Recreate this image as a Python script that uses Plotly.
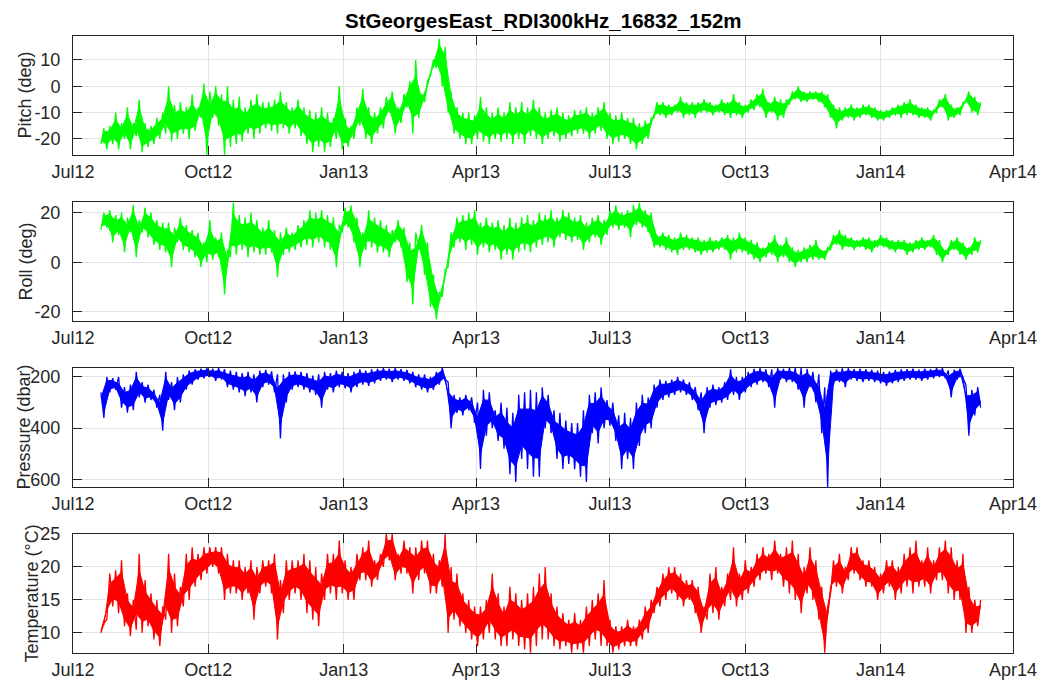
import numpy as np
import pandas as pd
import plotly.graph_objects as go

# ---------------------------------------------------------------------------
# Mooring record: StGeorgesEast RDI 300 kHz ADCP (s/n 16832) at 152 m.
# Each series is stored as a 4-day low/high envelope starting 2012-07-20.
# ---------------------------------------------------------------------------
record_start = "2012-07-20"
sample_step_days = 4

pitch_lo = [
    -22, -24, -22, -24, -20, -24, -19, -25, -23, -22,
    -20, -18, -21, -20, -18, -20, -17, -12, -26, -12,
    -15, -26, -23, -22, -21, -18, -20, -18, -16, -17,
    -18, -16, -18, -16, -19, -22, -25, -23, -25, -23,
    -20, -24, -23, -20, -15, -20, -22, -18, -16, -10,
    -18, -14, -8, -18, -12, -6, 4, 7, 0, -10,
    -18, -20, -22, -22, -20, -21, -22, -20, -21, -20,
    -22, -20, -22, -19, -20, -22, -20, -19, -21, -20,
    -19, -18, -18, -20, -18, -17, -20, -22, -21, -20,
    -22, -24, -22, -20, -12, -11, -12, -11, -10, -12,
    -11, -12, -10, -10, -11, -10, -11, -12, -11, -12,
    -10, -9, -8, -12, -10, -13, -12, -7, -5, -6,
    -6, -5, -6, -8, -12, -16, -13, -12, -13, -12,
    -11, -12, -13, -13, -12, -11, -12, -11, -11, -12,
    -12, -13, -10, -8, -13, -12, -11, -6, -10, -11,
]
pitch_hi = [
    -16, -15, -10, -14, -8, -14, -5, -14, -15, -12,
    -10, 0, -7, -6, -8, -3, -8, 1, -2, 0,
    -3, 0, -5, -4, -8, -5, -3, -6, -6, -5,
    -2, -6, -8, -5, -8, -9, -10, -8, -10, -12,
    0, -12, -15, -8, -1, -8, -10, -8, -4, -2,
    -8, -3, 2, 10, -3, 2, 10, 18, 15, -2,
    -8, -10, -10, -11, -4, -8, -10, -8, -10, -6,
    -8, -6, -8, -5, -8, -10, -9, -8, -10, -11,
    -9, -9, -8, -10, -8, -6, -10, -11, -10, -12,
    -12, -14, -13, -12, -6, -6, -7, -7, -4, -6,
    -6, -6, -5, -6, -7, -5, -6, -3, -6, -7,
    -5, -3, -1, -6, -4, -5, -5, -2, 0, -2,
    -2, -2, -2, -3, -7, -8, -8, -7, -8, -7,
    -7, -8, -9, -9, -8, -7, -6, -5, -7, -8,
    -8, -9, -5, -3, -7, -8, -6, -2, -4, -6,
]

roll_lo = [
    13, 14, 8, 11, 4, 12, 2, 12, 10, 7,
    5, 4, -2, 8, 5, 4, 2, -2, 0, 1,
    2, -13, 2, 3, 5, 2, 4, 3, 3, 4,
    -6, 3, 4, 5, 6, 7, 6, 8, 6, 5,
    -2, 12, 14, 8, -2, 5, 6, 4, 4, 2,
    8, 6, -8, -17, 5, -5, -18, -23, -14, -2,
    6, 8, 5, 7, 3, 6, 4, 5, 1, 3,
    1, 4, 5, 4, 6, 7, 8, 6, 10, 9,
    8, 9, 5, 8, 10, 7, 11, 14, 13, 14,
    10, 15, 14, 12, 6, 6, 5, 4, 3, 5,
    5, 4, 3, 4, 4, 5, 5, 1, 4, 4,
    3, 1, 0, 2, 3, 0, 2, 0, -2, 0,
    0, 1, 1, 1, 5, 7, 5, 6, 5, 6,
    5, 4, 6, 6, 5, 4, 5, 3, 4, 5,
    5, 6, 3, 0, 3, 5, 3, 1, 3, 4,
]
roll_hi = [
    20, 21, 19, 20, 18, 23, 17, 22, 20, 17,
    16, 16, 14, 18, 15, 13, 12, 8, 17, 10,
    12, 5, 24, 19, 18, 20, 17, 14, 17, 13,
    12, 14, 12, 15, 17, 21, 20, 21, 19, 18,
    15, 22, 23, 18, 12, 21, 18, 17, 15, 13,
    17, 14, 8, 12, 15, 8, -5, -12, -3, 12,
    18, 19, 20, 21, 16, 18, 16, 17, 15, 18,
    16, 18, 19, 17, 20, 19, 21, 18, 21, 20,
    18, 19, 16, 18, 19, 17, 21, 23, 20, 21,
    23, 24, 21, 20, 11, 12, 11, 10, 12, 11,
    10, 10, 9, 10, 9, 10, 11, 10, 12, 10,
    9, 8, 6, 8, 11, 7, 10, 6, 5, 6,
    7, 9, 5, 6, 11, 13, 11, 10, 9, 10,
    10, 9, 11, 10, 9, 9, 9, 8, 9, 10,
    9, 11, 9, 5, 9, 10, 8, 6, 10, 9,
]

pressure_lo = [
    260, 200, 205, 200, 240, 230, 180, 220, 230, 250,
    270, 180, 220, 200, 190, 175, 170, 168, 166, 168,
    166, 170, 175, 180, 185, 180, 190, 175, 172, 178,
    190, 190, 180, 178, 180, 185, 195, 190, 180, 185,
    175, 180, 185, 180, 170, 175, 170, 168, 166, 168,
    166, 170, 172, 180, 190, 190, 200, 180, 165, 220,
    270, 280, 270, 280, 300, 250, 260, 330, 300, 320,
    340, 270, 260, 250, 260, 240, 270, 330, 340, 370,
    380, 380, 330, 270, 260, 240, 290, 300, 350, 340,
    360, 300, 270, 280, 230, 210, 215, 210, 200, 210,
    220, 240, 260, 240, 230, 240, 220, 170, 200, 200,
    180, 168, 166, 170, 170, 166, 168, 166, 165, 165,
    168, 180, 190, 240, 175, 170, 166, 166, 170, 168,
    170, 172, 175, 180, 178, 172, 170, 170, 168, 172,
    168, 170, 166, 166, 175, 172, 168, 230, 250, 240,
]
pressure_hi = [
    360, 260, 250, 320, 340, 330, 280, 300, 290, 320,
    410, 290, 330, 300, 250, 230, 210, 205, 200, 215,
    210, 240, 250, 260, 275, 260, 300, 240, 230, 260,
    440, 300, 250, 240, 250, 260, 270, 320, 250, 260,
    240, 245, 260, 240, 230, 235, 225, 215, 210, 220,
    210, 215, 225, 240, 250, 260, 250, 230, 210, 400,
    340, 350, 330, 380, 560, 430, 400, 450, 480, 580,
    610, 520, 560, 590, 590, 400, 420, 520, 560, 540,
    560, 590, 610, 420, 460, 400, 390, 450, 560, 520,
    560, 470, 420, 400, 320, 290, 280, 270, 260, 270,
    290, 330, 420, 320, 310, 300, 290, 270, 290, 260,
    240, 230, 220, 240, 320, 210, 220, 220, 250, 320,
    240, 300, 420, 630, 230, 220, 240, 210, 215, 220,
    215, 220, 225, 235, 225, 220, 215, 210, 210, 215,
    210, 205, 200, 205, 280, 210, 205, 430, 350, 320,
]

temperature_lo = [
    10, 12, 14, 13, 11, 9.5, 10.5, 10, 11, 9,
    8, 12, 10, 11, 14, 15, 17, 18, 19, 20,
    19, 15, 16, 16, 15, 16, 12, 16, 17, 16,
    9, 13, 15, 16, 15, 13, 12, 11, 15, 16,
    15, 16, 15, 15, 18, 18, 17, 18, 20, 21,
    18, 19, 19, 16, 18, 19, 16, 16, 17, 10,
    12, 11, 10, 9, 8, 9, 10, 9, 8, 8,
    9, 8, 7.5, 7, 8, 9, 9, 8, 7.5, 8,
    7, 7.5, 7, 8, 9, 8, 8, 7, 7.5, 8,
    8, 8, 9, 10, 13, 14, 15, 16, 15, 14,
    15, 13, 10, 12, 13, 12, 14, 15, 14, 15,
    16, 17, 18, 19, 18, 19, 17, 16, 15, 13,
    16, 15, 12, 7, 16, 17, 16, 18, 19, 18,
    17, 17, 15, 16, 17, 15, 16, 17, 16, 17,
    17, 16, 18, 18, 16, 15, 15, 10, 10, 11,
]
temperature_hi = [
    11.5, 19, 19.5, 21, 16, 15, 22, 18, 16, 15,
    14, 22, 19, 17, 22, 23, 22, 23, 23, 23,
    23, 22, 21, 21, 20, 21, 20, 21, 21, 22,
    18, 21, 21, 21, 22, 21, 20, 19, 22, 22,
    24, 21, 20, 22, 23, 24, 21, 22, 25, 25,
    22, 24, 23, 23, 24, 24, 22, 21, 25, 20,
    19, 16, 15, 14, 14, 15, 19, 16, 14, 17,
    16, 15, 16, 17, 19, 20, 16, 14, 13, 12,
    13, 12, 14, 15, 16, 18, 12, 11, 11, 12,
    11, 12, 14, 15, 17, 19, 20, 20, 19, 18,
    18, 17, 14, 19, 20, 17, 19, 23, 19, 21,
    20, 22, 23, 22, 24, 22, 23, 24, 22, 20,
    23, 21, 17, 14, 21, 22, 20, 23, 23, 21,
    21, 20, 19, 21, 21, 20, 22, 23, 24, 21,
    23, 21, 23, 24, 23, 21, 22, 17, 15, 15,
]

# Axis ticks
month_ticks = ["2012-07-01", "2012-10-01", "2013-01-01", "2013-04-01",
               "2013-07-01", "2013-10-01", "2014-01-01", "2014-04-01"]
month_labels = ["Jul12", "Oct12", "Jan13", "Apr13",
                "Jul13", "Oct13", "Jan14", "Apr14"]
pitch_ticks = [-20, -10, 0, 10]
roll_ticks = [-20, 0, 20]
pressure_ticks = [200, 400, 600]
temperature_ticks = [10, 15, 20, 25]

title_text = "StGeorgesEast_RDI300kHz_16832_152m"

# ---------------------------------------------------------------------------
W, H = 1040, 682
FONT = "Liberation Sans, Arial, Helvetica, sans-serif"
INK = "#262626"
GRID = "#e3e3e3"
CORE_INSET = 0.22   # share of each window's spread drawn as outline only

n = len(pitch_lo)
t_low = pd.Timestamp(record_start) + pd.to_timedelta(np.arange(n) * sample_step_days, unit="D")
t_high = t_low + pd.Timedelta(days=sample_step_days / 2)


def trace_points(lo, hi):
    """Alternate the window minima and maxima in time order."""
    xs, ys = [], []
    for a, b, l, h in zip(t_low, t_high, lo, hi):
        xs += [a, b]
        ys += [l, h]
    return xs, ys


def core_outline(lo, hi):
    """Dense middle of each window, drawn as a solid band."""
    lo = np.asarray(lo, dtype=float)
    hi = np.asarray(hi, dtype=float)
    spread = hi - lo
    c_lo = lo + CORE_INSET * spread
    c_hi = hi - CORE_INSET * spread
    xs = list(t_high) + list(t_low[::-1])
    ys = list(c_hi) + list(c_lo[::-1])
    return xs, ys


panels = [
    dict(lo=pitch_lo, hi=pitch_hi, color="#00ff00", label="Pitch (deg)",
         rng=[-26.1, 19.1], ticks=pitch_ticks, box=(36, 155), lab_x=25),
    dict(lo=roll_lo, hi=roll_hi, color="#00ff00", label="Roll (deg)",
         rng=[-23.7, 24.3], ticks=roll_ticks, box=(202, 321), lab_x=25),
    dict(lo=pressure_lo, hi=pressure_hi, color="#0000ff", label="Pressure (dbar)",
         rng=[630, 165], ticks=pressure_ticks, box=(368, 487), lab_x=23),
    dict(lo=temperature_lo, hi=temperature_hi, color="#ff0000", label="Temperature (°C)",
         rng=[6.95, 25.0], ticks=temperature_ticks, box=(534, 653), lab_x=31),
]

x_left, x_right = 73, 1013
fig = go.Figure()
layout = dict(
    width=W, height=H, margin=dict(l=0, r=0, t=0, b=0, autoexpand=False),
    paper_bgcolor="white", plot_bgcolor="white", showlegend=False,
    font=dict(family=FONT, size=18, color=INK),
)
annotations = []

for i, p in enumerate(panels, start=1):
    sfx = "" if i == 1 else str(i)
    bx, by = core_outline(p["lo"], p["hi"])
    fig.add_trace(go.Scatter(
        x=bx, y=by, mode="lines", fill="toself", fillcolor=p["color"],
        xaxis="x" + sfx, yaxis="y" + sfx,
        line=dict(color=p["color"], width=1), hoverinfo="skip",
    ))
    xs, ys = trace_points(p["lo"], p["hi"])
    fig.add_trace(go.Scatter(
        x=xs, y=ys, mode="lines", xaxis="x" + sfx, yaxis="y" + sfx,
        line=dict(color=p["color"], width=1.3), hoverinfo="skip",
    ))
    top, bot = p["box"]
    common = dict(
        ticks="inside", ticklen=9, tickwidth=1, tickcolor=INK,
        showline=True, linecolor=INK, linewidth=1, mirror="ticks",
        showgrid=True, gridcolor=GRID, gridwidth=1, zeroline=False,
        tickfont=dict(family=FONT, size=18, color=INK),
        automargin=False,
    )
    layout["xaxis" + sfx] = dict(
        domain=[x_left / W, x_right / W], anchor="y" + sfx, type="date",
        range=[month_ticks[0], month_ticks[-1]],
        tickmode="array", tickvals=month_ticks, ticktext=month_labels,
        ticklabelstandoff=0, **common,
    )
    layout["yaxis" + sfx] = dict(
        domain=[1 - bot / H, 1 - top / H], anchor="x" + sfx,
        range=p["rng"], tickmode="array", tickvals=p["ticks"],
        ticktext=[str(v) for v in p["ticks"]],
        ticklabelstandoff=8, **common,
    )
    annotations.append(dict(
        text=p["label"], xref="paper", yref="paper",
        x=p["lab_x"] / W, y=1 - (top + bot) / 2 / H,
        xanchor="center", yanchor="middle", textangle=-90, showarrow=False,
        font=dict(family=FONT, size=18, color=INK),
    ))

annotations.append(dict(
    text="<b>" + title_text + "</b>", xref="paper", yref="paper",
    x=(x_left + x_right) / 2 / W, y=1 - 21 / H,
    xanchor="center", yanchor="middle", showarrow=False,
    font=dict(family=FONT, size=20.5, color="black"),
))
layout["annotations"] = annotations
fig.update_layout(**layout)

fig.write_html("out.html")
